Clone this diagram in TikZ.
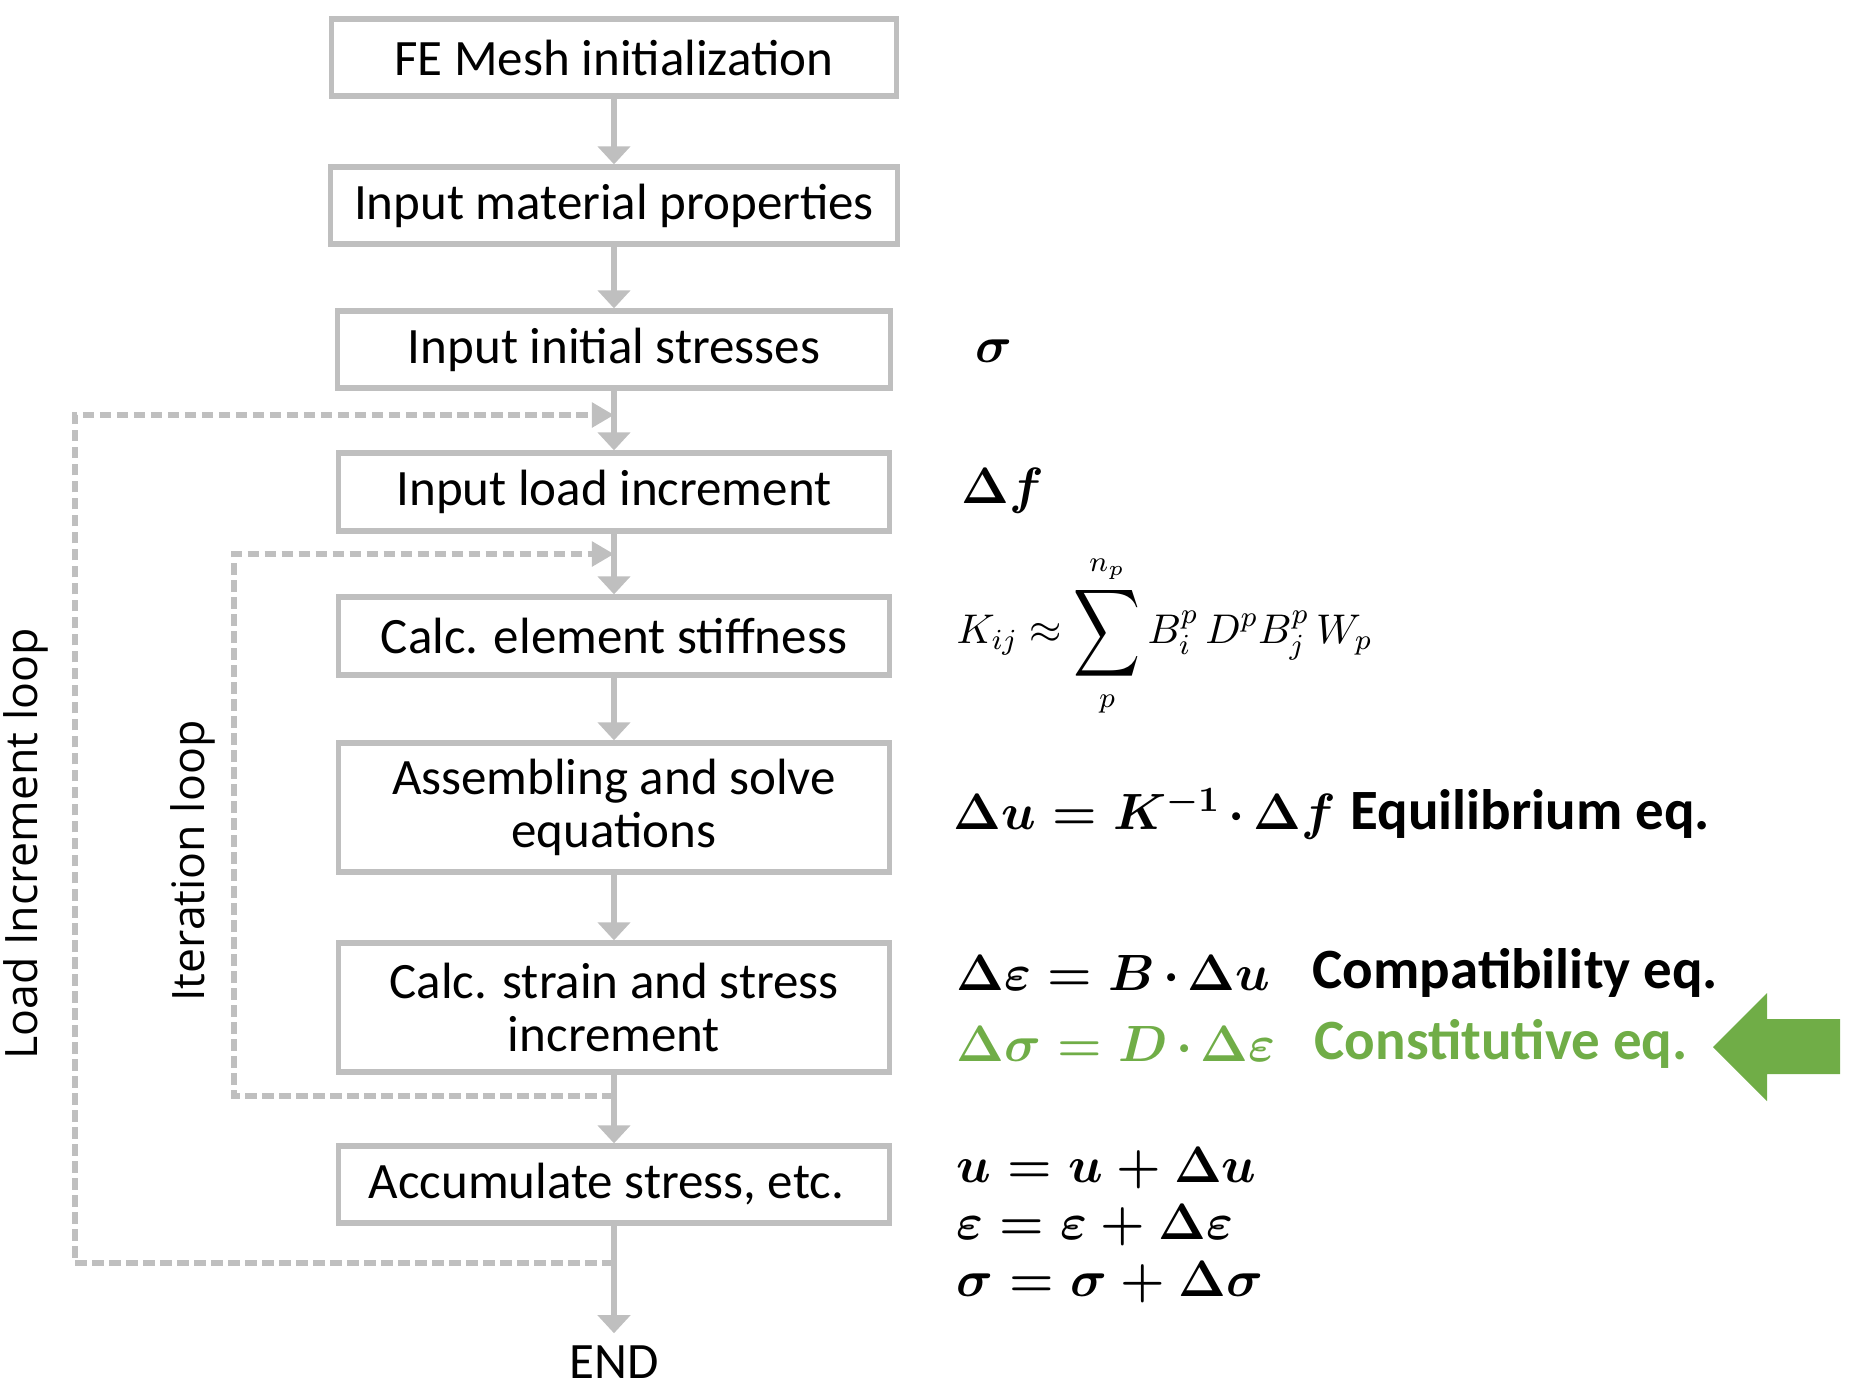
\RequirePackage{fix-cm}
\documentclass[tikz,border=0pt]{standalone}
\usepackage[no-math]{fontspec}
\usepackage{amsmath}
\usepackage{tikz}
\usetikzlibrary{arrows.meta, positioning, calc}
\setmainfont{Carlito}
\newfontfamily\loopfont{Open Sans}
\definecolor{linegray}{RGB}{191, 191, 191}
\definecolor{constgreen}{RGB}{112, 173, 71}
\newcommand{\tdot}{\mskip-1.5mu\cdot\mskip-1.5mu}
\newcommand{\tallsum}{\mathop{\vcenter{\hbox{\scalebox{1.1}[1.45]{$\displaystyle\sum$}}}}\limits}

\begin{document}
\begin{tikzpicture}[x=0.01cm, y=-0.01cm,
    stepbox/.style={draw=linegray, line width=1.5pt, align=center, inner sep=0pt,
        font=\fontsize{14.5}{15}\selectfont},
    flow/.style={draw=linegray, line width=1.5pt, -{Triangle[width=3.2mm, length=1.8mm]}},
    loopline/.style={draw=linegray, line width=1.5pt, dash pattern=on 1.15mm off 0.55mm,
        -{Triangle[width=2.4mm, length=2.2mm]}},
    eqn/.style={anchor=west, inner sep=0pt, font=\fontsize{14.5}{16.3}\selectfont\boldmath},
    eqname/.style={anchor=west, inner sep=0pt, font=\fontsize{16.2}{18}\selectfont\bfseries},
    looplabel/.style={rotate=90, font=\loopfont\fontsize{12.7}{14}\selectfont}]
    \useasboundingbox (0,0) rectangle (1860,1396);

    % Flow boxes
    \foreach \name/\y/\w/\h/\txt in {
        mesh/57.5/5.65/0.77/FE Mesh initialization,
        mat/205.5/5.66/0.77/Input material properties,
        ini/349.5/5.52/0.77/Input initial stresses,
        load/492/5.51/0.78/Input load increment,
        stiff/636/5.51/0.78/Calc. element stiffness,
        solve/807.5/5.51/1.29/Assembling and solve\\equations,
        strain/1007.5/5.51/1.29/Calc. strain and stress\\increment,
        accum/1184.5/5.51/0.77/{Accumulate stress, etc.}
    } {
        \node[stepbox, minimum width=\w cm, minimum height=\h cm] (\name) at (614,\y) {\txt};
    }
    \node[font=\fontsize{14.5}{15}\selectfont] (end) at (614,1362) {END};

    % Main flow
    \draw[flow] (mesh) -- (mat);
    \draw[flow] (mat) -- (ini);
    \draw[flow] (ini) -- (load);
    \draw[flow] (load) -- (stiff);
    \draw[flow] (stiff) -- (solve);
    \draw[flow] (solve) -- (strain);
    \draw[flow] (strain) -- (accum);
    \draw[flow] (accum) -- (end);

    % Loops
    \coordinate (loadin) at (614,415);
    \coordinate (loadout) at (614,1263);
    \coordinate (iterin) at (614,554);
    \coordinate (iterout) at (614,1096);
    \draw[loopline] (loadout) -- ++(-539,0) |- (loadin);
    \draw[loopline] (iterout) -- ++(-380,0) |- (iterin);
    \node[looplabel] (loadlbl) at (26,844) {Load Increment loop};
    \node[looplabel] (iterlbl) at (193,861) {Iteration loop};

    % Equations
    \node[eqn] (sig) at (975,351) {$\sigma$};
    \node[eqn] (df) at (961,491) {$\Delta f$};
    \node[eqn, font=\fontsize{11.8}{14}\selectfont\unboldmath] (kij) at (956,636)
        {$\displaystyle K_{ij} \approx \tallsum_{p}^{n_p} B_i^p\, D^p B_j^p\, W_p$};
    \node[eqn] (equil) at (953,814) {$\Delta u = K^{-1}\tdot\Delta f$};
    \node[eqname] (equilname) at (1350,814) {Equilibrium eq.};
    \node[eqn] (compat) at (956,973) {$\Delta\varepsilon = B\tdot\Delta u$};
    \node[eqname] (compatname) at (1312,973) {Compatibility eq.};
    \node[eqn, text=constgreen] (const) at (956,1044) {$\Delta\sigma = D\tdot\Delta\varepsilon$};
    \node[eqname, text=constgreen] (constname) at (1314,1044) {Constitutive eq.};
    \node[eqn, align=left] (update) at (956,1225)
        {$u = u + \Delta u$\\$\varepsilon = \varepsilon + \Delta\varepsilon$\\$\sigma = \sigma + \Delta\sigma$};

    % Marker arrow
    \fill[constgreen] (1713,1047) -- (1767,993) -- (1767,1019) -- (1840,1019)
        -- (1840,1074) -- (1767,1074) -- (1767,1101) -- cycle;
\end{tikzpicture}
\end{document}
